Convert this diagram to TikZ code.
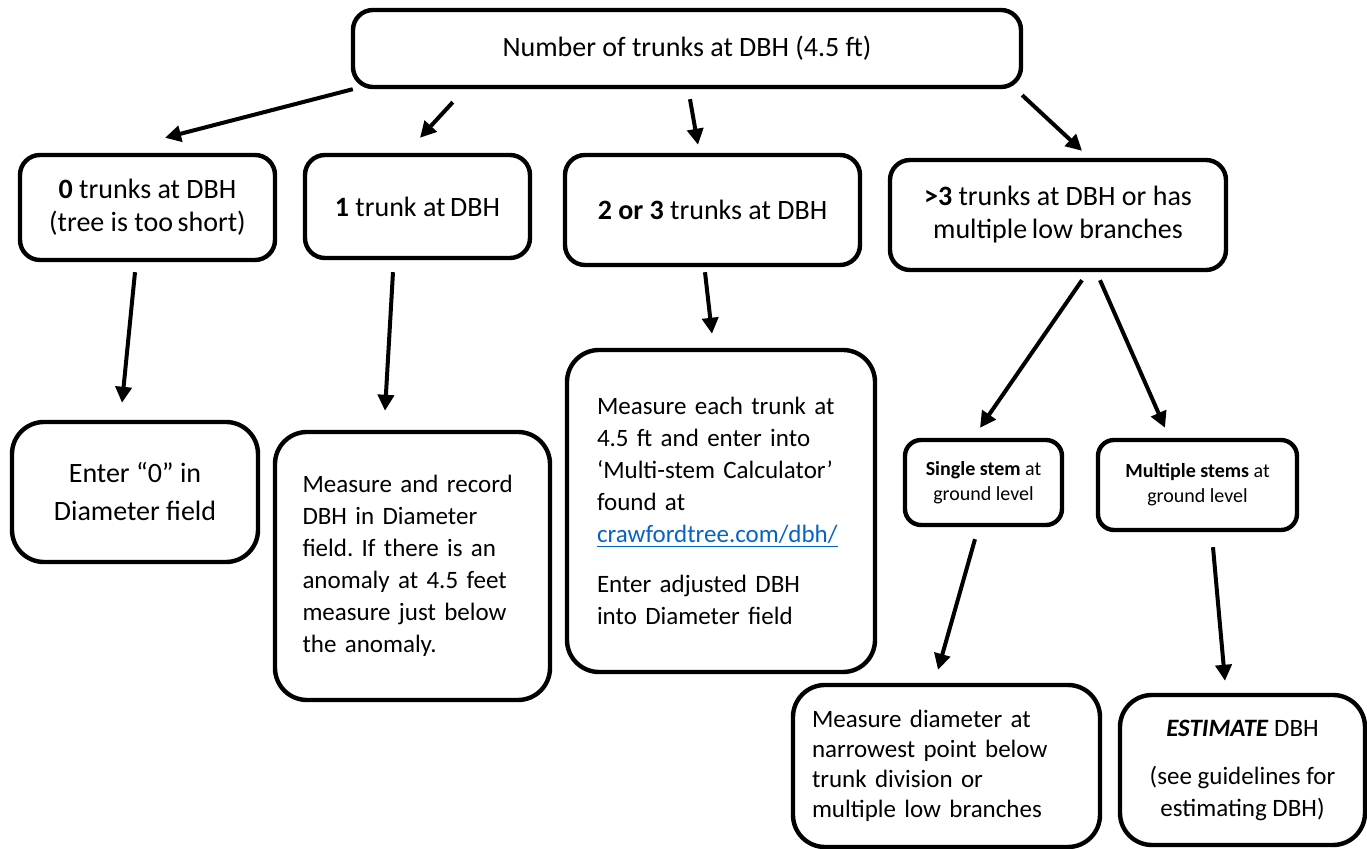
\documentclass[tikz,border=0pt]{standalone}
\usepackage{fontspec}
\setmainfont{Carlito}
\usetikzlibrary{arrows.meta}
\definecolor{linkblue}{HTML}{0563C1}
\frenchspacing
\tikzset{
   box/.style={draw=black,line width=2.2pt,rounded corners=10pt,align=center,inner sep=0pt},
   bigbox/.style={box,rounded corners=16pt},
   arrow/.style={black,line width=2pt,-{Triangle[length=8pt,width=8pt]}},
   headfont/.style={font=\fontsize{14}{16.5}\selectfont},
   bodyfont/.style={font=\fontsize{12.5}{16}\selectfont},
   smallfont/.style={font=\fontsize{10}{12.5}\selectfont}
}
\begin{document}
\begin{tikzpicture}[x=0.5pt,y=-0.5pt]
   \useasboundingbox (0,0) rectangle (1367,849);
   \node [box,headfont,minimum width=334pt,minimum height=38.5pt] (top) at (687,48.5) {Number of trunks at DBH (4.5 ft)};
   \node [box,headfont,minimum width=127.5pt,minimum height=52.5pt] (zero) at (147.5,207.5) {\textbf{0} trunks at DBH\\(tree is too\,short)};
   \node [box,headfont,minimum width=112.5pt,minimum height=51.5pt] (one) at (417.5,206.5) {\textbf{1} trunk at\,DBH};
   \node [box,headfont,minimum width=147.5pt,minimum height=55pt] (two) at (712.5,210) {\textbf{2 or 3} trunks at DBH};
   \node [box,headfont,minimum width=168pt,minimum height=55pt] (many) at (1058,215) {\textbf{>3} trunks at DBH or has\\multiple\,low branches};
   \node [bigbox,font=\fontsize{14}{19}\selectfont,minimum width=123pt,minimum height=70pt] (zeroact) at (135,492) {Enter “0” in\\Diameter field};
   \node [bigbox,bodyfont,align=left,text width=110pt,minimum width=137.5pt,minimum height=134pt] (oneact) at (412.5,566)
      {Measure and record\\DBH in Diameter\\field. If there is an\\anomaly at 4.5 feet\\measure just below\\the anomaly.\par\vspace{12pt}};
   \node [bigbox,bodyfont,align=left,text width=124pt,minimum width=154pt,minimum height=161pt] (twoact) at (721,511)
      {Measure each trunk at\\4.5 ft and enter into\\‘Multi-stem Calculator’\\found at\\{\color{linkblue}\underline{crawfordtree.com/dbh/}}\\[9pt]Enter adjusted DBH\\into Diameter field\par\vspace{11pt}};
   \node [box,smallfont,rounded corners=8pt,minimum width=78.5pt,minimum height=42.5pt] (single) at (983.5,482.5) {\textbf{Single stem} at\\ground level};
   \node [box,smallfont,rounded corners=8pt,minimum width=99.5pt,minimum height=45pt] (multi) at (1197.5,485) {\textbf{Multiple stems} at\\ground level};
   \node [bigbox,font=\fontsize{12.5}{15}\selectfont,align=left,text width=134.5pt,minimum width=153.5pt,minimum height=81pt] (singleact) at (946.5,766)
      {Measure diameter at\\narrowest point below\\trunk division or\\multiple low branches};
   \node [bigbox,bodyfont,minimum width=122.5pt,minimum height=75pt] (multiact) at (1242.5,770) {\textbf{\textit{ESTIMATE}} DBH\\[8pt](see guidelines for\\estimating DBH)};
   \draw [arrow] ([shift={(2,0)}]top.south west) -- ([shift={(17.5,-15)}]zero.north);
   \draw [arrow] ([shift={(102,13)}]top.south west) -- ([shift={(2.5,-15)}]one.north);
   \draw [arrow] ([shift={(3,10)}]top.south) -- ([shift={(-14.5,-8)}]two.north);
   \draw [arrow] ([shift={(-1,6)}]top.south east) -- ([shift={(24,-7)}]many.north);
   \draw [arrow] ([shift={(-12.5,10)}]zero.south) -- ([shift={(-13,-17)}]zeroact.north);
   \draw [arrow] ([shift={(-24.5,12)}]one.south) -- ([shift={(-27.5,-19)}]oneact.north);
   \draw [arrow] ([shift={(-7.5,5)}]two.south) -- ([shift={(-9,-14)}]twoact.north);
   \draw [arrow] ([shift={(24,8)}]many.south) -- ([shift={(-3.5,-10)}]single.north);
   \draw [arrow] ([shift={(42,8)}]many.south) -- ([shift={(-32.5,-10)}]multi.north);
   \draw [arrow] ([shift={(-8.5,12)}]single.south) -- ([shift={(-8.5,-13)}]singleact.north);
   \draw [arrow] ([shift={(15.5,15)}]multi.south) -- ([shift={(-17.5,-12)}]multiact.north);
\end{tikzpicture}
\end{document}
